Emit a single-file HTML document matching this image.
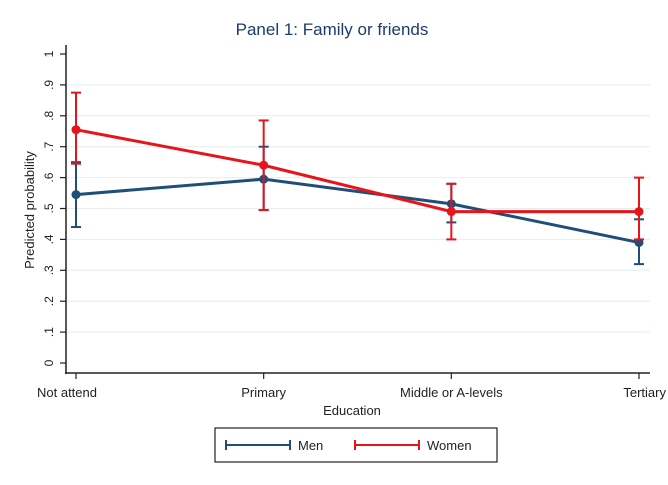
<!DOCTYPE html>
<html><head><meta charset="utf-8"><style>
body{margin:0;background:#fff;}
svg{display:block;font-family:"Liberation Sans",sans-serif;}
</style></head><body>
<svg id="chart" width="668" height="485">
<text x="332" y="35" text-anchor="middle" font-size="17" fill="#1e3a6e">Panel 1: Family or friends</text>
<g id="grid"></g><g id="axes"></g><g id="marks"></g>
<text transform="translate(34,210) rotate(-90)" text-anchor="middle" font-size="13" fill="#222">Predicted probability</text>
<text x="352" y="415" text-anchor="middle" font-size="13" fill="#222">Education</text>
<g>
<rect x="215" y="428" width="282" height="34" fill="#fff" stroke="#222" stroke-width="1.2"/>
<g>
<line x1="226" y1="445" x2="290" y2="445" stroke="#1f4e79" stroke-width="2"/><line x1="226" y1="440" x2="226" y2="450" stroke="#1f4e79" stroke-width="2"/><line x1="290" y1="440" x2="290" y2="450" stroke="#1f4e79" stroke-width="2"/>
<text x="298" y="450" font-size="13" fill="#222">Men</text></g>
<g>
<line x1="355" y1="445" x2="419" y2="445" stroke="#e8141c" stroke-width="2"/><line x1="355" y1="440" x2="355" y2="450" stroke="#e8141c" stroke-width="2"/><line x1="419" y1="440" x2="419" y2="450" stroke="#e8141c" stroke-width="2"/>
<text x="427" y="450" font-size="13" fill="#222">Women</text></g>
</g>
</svg>
<script>
const categories=["Not attend","Primary","Middle or A-levels","Tertiary"];
const yTicks=[0,.1,.2,.3,.4,.5,.6,.7,.8,.9,1];
const yTickLabels=["0",".1",".2",".3",".4",".5",".6",".7",".8",".9","1"];
const menValues=[0.545,0.595,0.515,0.39];
const menLow=[0.44,0.495,0.455,0.32];
const menHigh=[0.65,0.70,0.58,0.465];
const womenValues=[0.755,0.64,0.49,0.49];
const womenLow=[0.645,0.495,0.40,0.40];
const womenHigh=[0.875,0.785,0.58,0.60];
const NS="http://www.w3.org/2000/svg";
function xS(i){return 76+i*(639-76)/(categories.length-1);}
function yS(v){return 363-v*309;}
function mk(p,tag,a){const e=document.createElementNS(NS,tag);for(const k in a)e.setAttribute(k,a[k]);p.appendChild(e);return e;}
const grid=document.getElementById('grid'),axes=document.getElementById('axes'),marks=document.getElementById('marks');
yTicks.forEach((t,i)=>{
 if(t>0&&t<1){const g=mk(grid,'line',{x1:66,x2:650,y1:yS(t),y2:yS(t),stroke:'#e6eeee','stroke-width':1});
 
 }
 mk(axes,'line',{x1:60,x2:66,y1:yS(t),y2:yS(t),stroke:'#222','stroke-width':1.2});
 const tx=mk(axes,'text',{transform:`translate(53,${yS(t)}) rotate(-90)`,'text-anchor':'middle','font-size':12,fill:'#222'});
 tx.textContent=yTickLabels[i];
 
 
});
const ya=mk(axes,'line',{x1:66,x2:66,y1:45,y2:374,stroke:'#222','stroke-width':1.5});


const xa=mk(axes,'line',{x1:65,x2:650,y1:373,y2:373,stroke:'#222','stroke-width':1.5});


categories.forEach((c,i)=>{
 mk(axes,'line',{x1:xS(i),x2:xS(i),y1:373,y2:379,stroke:'#222','stroke-width':1.2});
 const anchor=i==categories.length-1?'end':(i==0?'start':'middle');
 const x=i==0?xS(i)-39:(i==categories.length-1?xS(i)+27:xS(i));
 const tx=mk(axes,'text',{x:x,y:397,'text-anchor':anchor,'font-size':13,fill:'#222'});
 tx.textContent=c;
 
 
});
function series(vals,lo,hi,color,name){
 const g=mk(marks,'g',{});
 
 
 vals.forEach((v,i)=>{
  const x=xS(i);
  mk(g,'line',{x1:x,x2:x,y1:yS(lo[i]),y2:yS(hi[i]),stroke:color,'stroke-width':2});
  mk(g,'line',{x1:x-5,x2:x+5,y1:yS(lo[i]),y2:yS(lo[i]),stroke:color,'stroke-width':2});
  mk(g,'line',{x1:x-5,x2:x+5,y1:yS(hi[i]),y2:yS(hi[i]),stroke:color,'stroke-width':2});
 });
 const pl=mk(g,'polyline',{points:vals.map((v,i)=>xS(i)+','+yS(v)).join(' '),fill:'none',stroke:color,'stroke-width':3});
 
 
 vals.forEach((v,i)=>{const c=mk(g,'circle',{cx:xS(i),cy:yS(v),r:4.5,fill:color});
  
  });
}
series(menValues,menLow,menHigh,'#1f4e79','men');
series(womenValues,womenLow,womenHigh,'#e8141c','women');
</script>
</body></html>
